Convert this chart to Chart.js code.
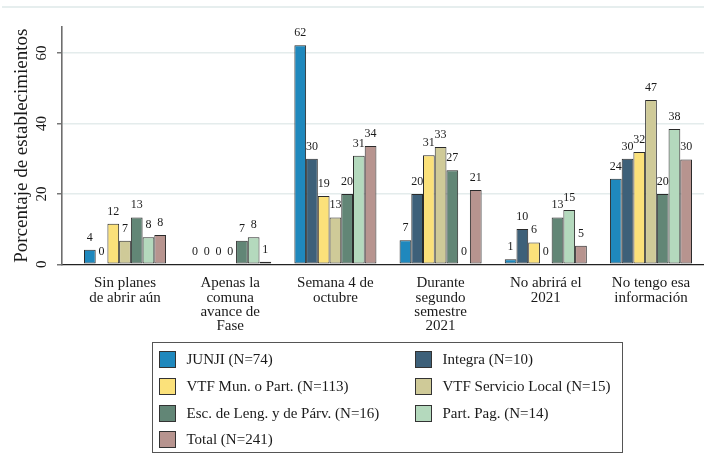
<!DOCTYPE html>
<html><head><meta charset="utf-8">
<script src="https://cdn.jsdelivr.net/npm/chart.js@4.4.1/dist/chart.umd.min.js"></script>
<style>
html,body{margin:0;padding:0;background:#fff;}
#wrap{position:relative;width:704px;height:455px;overflow:hidden;}
canvas{position:absolute;left:0;top:0;}
#legend{position:absolute;left:152px;top:342px;width:471px;height:111px;border:1.5px solid #555;box-sizing:border-box;font-family:"Liberation Serif",serif;font-size:15px;color:#1a1a1a;}
.item{position:absolute;display:flex;align-items:center;height:20px;white-space:nowrap;}
.sw{width:17px;height:17px;border:1.5px solid #333;box-sizing:border-box;margin-right:11px;flex:none;}
</style></head>
<body><div id="wrap"><canvas id="c" width="704" height="455"></canvas><div id="legend"></div></div>
<script>
const categories = [["Sin planes","de abrir aún"],["Apenas la","comuna","avance de","Fase"],["Semana 4 de","octubre"],["Durante","segundo","semestre","2021"],["No abrirá el","2021"],["No tengo esa","información"]];
const seriesNames = ["JUNJI (N=74)","Integra (N=10)","VTF Mun. o Part. (N=113)","VTF Servicio Local (N=15)","Esc. de Leng. y de Párv. (N=16)","Part. Pag. (N=14)","Total (N=241)"];
const junji   = [4.1, 0, 62.2, 6.8, 1.4, 24.3];
const integra = [0, 0, 30, 20, 10, 30];
const vtfMun  = [11.5, 0, 19.4, 31.0, 6.2, 31.9];
const vtfSL   = [6.7, 0, 13.3, 33.3, 0, 46.7];
const escLeng = [13.3, 6.7, 20, 26.7, 13.3, 20];
const partPag = [7.7, 7.7, 30.8, 0, 15.4, 38.4];
const total   = [8.3, 0.7, 33.6, 21.1, 5.3, 29.8];
const yTicks  = [0, 20, 40, 60];
const yTitle  = "Porcentaje de establecimientos";

const colors = ['#1f88bd','#3d6079','#fbe17a','#cfca98','#628676','#b4d9bd','#b7948f'];
const allSeries = [junji, integra, vtfMun, vtfSL, escLeng, partPag, total];
const SERIF = '"Liberation Serif", "Times New Roman", serif';

const datasets = allSeries.map((arr, k) => ({
  label: seriesNames[k],
  data: arr.map((v, i) => ({x: i, y: v})),
  backgroundColor: colors[k],
  borderColor: '#2a2a2a',
  borderWidth: 1,
  borderSkipped: false,
  categoryPercentage: 0.78,
  barPercentage: 1.0
}));

const decor = {
  id: 'decor',
  beforeDraw(chart) {
    const ctx = chart.ctx;
    ctx.save();
    ctx.strokeStyle = '#e6eeee';
    ctx.lineWidth = 2;
    ctx.beginPath(); ctx.moveTo(2, 7); ctx.lineTo(704, 7); ctx.stroke();
    ctx.restore();
  },
  afterDraw(chart) {
    const ctx = chart.ctx, ys = chart.scales.y;
    ctx.save();
    ctx.fillStyle = '#1a1a1a';
    ctx.font = '15px ' + SERIF;
    ctx.textAlign = 'center';
    ctx.textBaseline = 'middle';
    yTicks.forEach(v => {
      ctx.save();
      ctx.translate(42, ys.getPixelForValue(v));
      ctx.rotate(-Math.PI / 2);
      ctx.fillText(String(v), 0, 0);
      ctx.restore();
    });
    ctx.restore();
  },
  afterDatasetsDraw(chart) {
    const ctx = chart.ctx;
    ctx.save();
    ctx.fillStyle = '#1a1a1a';
    ctx.font = '12px ' + SERIF;
    ctx.textAlign = 'center';
    ctx.textBaseline = 'alphabetic';
    chart.data.datasets.forEach((ds, k) => {
      const meta = chart.getDatasetMeta(k);
      meta.data.forEach((el, i) => {
        ctx.fillText(String(Math.round(allSeries[k][i])), el.x, el.y - 9);
      });
    });
    ctx.restore();
  }
};

const chart = new Chart(document.getElementById('c'), {
  type: 'bar',
  data: { datasets },
  options: {
    responsive: false,
    animation: false,
    devicePixelRatio: 1,
    layout: { padding: { top: 27, left: 0, right: 0, bottom: 0 } },
    plugins: { legend: { display: false }, tooltip: { enabled: false } },
    scales: {
      x: {
        type: 'linear',
        min: -0.599, max: 5.504,
        offset: false,
        afterBuildTicks: s => { s.ticks = categories.map((c, i) => ({ value: i })); },
        afterFit: s => { s.height = 455 - 264.3; },
        grid: { display: false, drawTicks: false },
        border: { display: true, color: '#222', width: 1.2 },
        ticks: {
          autoSkip: false, maxRotation: 0, minRotation: 0, padding: 12,
          color: '#1a1a1a',
          font: { family: SERIF, size: 15, lineHeight: 0.95 },
          callback: v => categories[v] || ''
        }
      },
      y: {
        min: 0, max: 67.4,
        afterBuildTicks: s => { s.ticks = yTicks.map(v => ({ value: v })); },
        afterFit: s => { s.width = 62; },
        grid: {
          color: ctx => (ctx.tick && ctx.tick.value === 0) ? 'rgba(0,0,0,0)' : '#e4ecec',
          lineWidth: 1.6, drawTicks: true, tickLength: 5, tickColor: '#555', tickWidth: 1.2
        },
        border: { display: true, color: '#6e6e6e', width: 1.6 },
        ticks: { display: false },
        title: {
          display: true, text: yTitle, color: '#1a1a1a',
          font: { family: SERIF, size: 19 }, padding: { top: 11, bottom: 0 }
        }
      }
    }
  },
  plugins: [decor]
});

const leg = document.getElementById('legend');
const colX = [5.5, 261.5];
const rowY = [6.5, 33.5, 60.5, 86.5];
seriesNames.forEach((name, k) => {
  const it = document.createElement('div');
  it.className = 'item';
  it.style.left = colX[k % 2] + 'px';
  it.style.top = rowY[Math.floor(k / 2)] + 'px';
  const sw = document.createElement('span');
  sw.className = 'sw';
  sw.style.background = colors[k];
  const tx = document.createElement('span');
  tx.textContent = name;
  it.appendChild(sw); it.appendChild(tx);
  leg.appendChild(it);
});
</script>
</body></html>
